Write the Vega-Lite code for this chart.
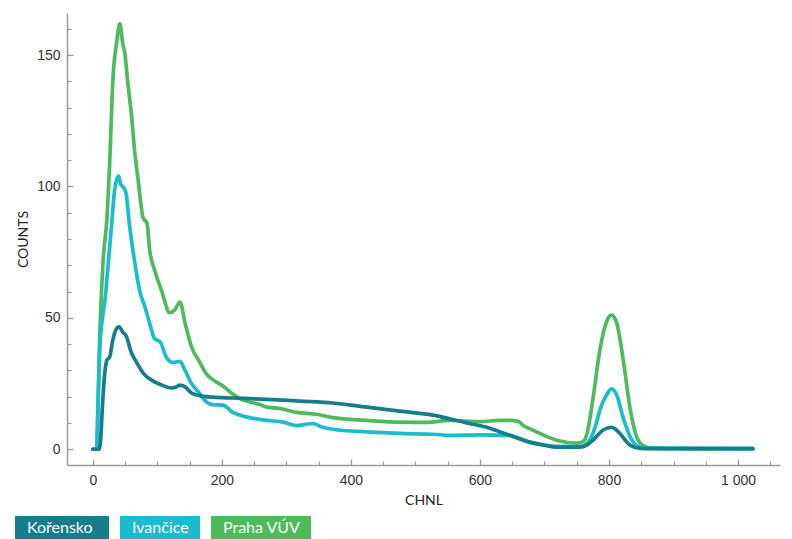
{
  "$schema": "https://vega.github.io/schema/vega-lite/v6.json",
  "width": 713,
  "height": 452,
  "autosize": {"type": "none"},
  "padding": {"left": 67, "top": 13, "right": 12, "bottom": 74},
  "background": "white",
  "config": {
    "view": {"stroke": null},
    "axis": {"grid": false, "domainColor": "#9a9a9a", "domainWidth": 1.5, "tickColor": "#9a9a9a", "tickWidth": 1.2, "labelFont": "Liberation Sans", "labelFontSize": 14, "labelColor": "#333333", "titleFont": "Lato", "titleFontSize": 14, "titleFontWeight": "normal", "titleColor": "#222222"}
  },
  "data": {"values": [
    {"ch":0,"v":0,"s":"Praha VÚV"},{"ch":6,"v":0,"s":"Praha VÚV"},{"ch":8,"v":18,"s":"Praha VÚV"},{"ch":11,"v":45,"s":"Praha VÚV"},{"ch":16,"v":72,"s":"Praha VÚV"},{"ch":22,"v":88,"s":"Praha VÚV"},{"ch":26,"v":108,"s":"Praha VÚV"},{"ch":31,"v":140,"s":"Praha VÚV"},{"ch":37,"v":155,"s":"Praha VÚV"},{"ch":42,"v":162,"s":"Praha VÚV"},{"ch":46,"v":155,"s":"Praha VÚV"},{"ch":50,"v":150,"s":"Praha VÚV"},{"ch":54,"v":140,"s":"Praha VÚV"},{"ch":60,"v":127,"s":"Praha VÚV"},{"ch":65,"v":113,"s":"Praha VÚV"},{"ch":70,"v":103,"s":"Praha VÚV"},{"ch":78,"v":88,"s":"Praha VÚV"},{"ch":84,"v":86,"s":"Praha VÚV"},{"ch":88,"v":76,"s":"Praha VÚV"},{"ch":96,"v":68,"s":"Praha VÚV"},{"ch":107,"v":60,"s":"Praha VÚV"},{"ch":119,"v":52,"s":"Praha VÚV"},{"ch":127,"v":53,"s":"Praha VÚV"},{"ch":135,"v":56,"s":"Praha VÚV"},{"ch":143,"v":48,"s":"Praha VÚV"},{"ch":153,"v":39,"s":"Praha VÚV"},{"ch":166,"v":33,"s":"Praha VÚV"},{"ch":175,"v":29,"s":"Praha VÚV"},{"ch":189,"v":26,"s":"Praha VÚV"},{"ch":202,"v":24,"s":"Praha VÚV"},{"ch":217,"v":21,"s":"Praha VÚV"},{"ch":230,"v":19,"s":"Praha VÚV"},{"ch":243,"v":18,"s":"Praha VÚV"},{"ch":259,"v":17,"s":"Praha VÚV"},{"ch":270,"v":16,"s":"Praha VÚV"},{"ch":290,"v":15.5,"s":"Praha VÚV"},{"ch":316,"v":14,"s":"Praha VÚV"},{"ch":347,"v":13.3,"s":"Praha VÚV"},{"ch":372,"v":12,"s":"Praha VÚV"},{"ch":425,"v":11,"s":"Praha VÚV"},{"ch":476,"v":10.3,"s":"Praha VÚV"},{"ch":518,"v":10.2,"s":"Praha VÚV"},{"ch":553,"v":11,"s":"Praha VÚV"},{"ch":600,"v":10.5,"s":"Praha VÚV"},{"ch":631,"v":11,"s":"Praha VÚV"},{"ch":647,"v":11,"s":"Praha VÚV"},{"ch":660,"v":10.5,"s":"Praha VÚV"},{"ch":667,"v":9,"s":"Praha VÚV"},{"ch":680,"v":7.5,"s":"Praha VÚV"},{"ch":693,"v":6,"s":"Praha VÚV"},{"ch":719,"v":3.4,"s":"Praha VÚV"},{"ch":750,"v":2.3,"s":"Praha VÚV"},{"ch":760,"v":3,"s":"Praha VÚV"},{"ch":766,"v":6,"s":"Praha VÚV"},{"ch":775,"v":19,"s":"Praha VÚV"},{"ch":786,"v":38,"s":"Praha VÚV"},{"ch":797,"v":49,"s":"Praha VÚV"},{"ch":804,"v":51,"s":"Praha VÚV"},{"ch":812,"v":48,"s":"Praha VÚV"},{"ch":822,"v":34,"s":"Praha VÚV"},{"ch":833,"v":15,"s":"Praha VÚV"},{"ch":843,"v":4.6,"s":"Praha VÚV"},{"ch":852,"v":1.5,"s":"Praha VÚV"},{"ch":865,"v":0.5,"s":"Praha VÚV"},{"ch":900,"v":0.3,"s":"Praha VÚV"},{"ch":1023,"v":0.2,"s":"Praha VÚV"},

    {"ch":0,"v":0,"s":"Ivančice"},{"ch":6,"v":0,"s":"Ivančice"},{"ch":8,"v":15,"s":"Ivančice"},{"ch":11,"v":39,"s":"Ivančice"},{"ch":15,"v":50,"s":"Ivančice"},{"ch":19,"v":57,"s":"Ivančice"},{"ch":23,"v":68,"s":"Ivančice"},{"ch":29,"v":85,"s":"Ivančice"},{"ch":34,"v":99,"s":"Ivančice"},{"ch":40,"v":104,"s":"Ivančice"},{"ch":43,"v":101,"s":"Ivančice"},{"ch":46,"v":100,"s":"Ivančice"},{"ch":51,"v":98,"s":"Ivančice"},{"ch":57,"v":85,"s":"Ivančice"},{"ch":65,"v":71,"s":"Ivančice"},{"ch":73,"v":60,"s":"Ivančice"},{"ch":81,"v":54,"s":"Ivančice"},{"ch":88,"v":48,"s":"Ivančice"},{"ch":96,"v":42,"s":"Ivančice"},{"ch":104,"v":41,"s":"Ivančice"},{"ch":114,"v":35,"s":"Ivančice"},{"ch":124,"v":33,"s":"Ivančice"},{"ch":135,"v":33.4,"s":"Ivančice"},{"ch":143,"v":30,"s":"Ivančice"},{"ch":153,"v":25,"s":"Ivančice"},{"ch":163,"v":22,"s":"Ivančice"},{"ch":176,"v":18,"s":"Ivančice"},{"ch":186,"v":17,"s":"Ivančice"},{"ch":202,"v":16.8,"s":"Ivančice"},{"ch":217,"v":14,"s":"Ivančice"},{"ch":238,"v":12.3,"s":"Ivančice"},{"ch":270,"v":11,"s":"Ivančice"},{"ch":295,"v":10.3,"s":"Ivančice"},{"ch":316,"v":9,"s":"Ivančice"},{"ch":330,"v":9.5,"s":"Ivančice"},{"ch":341,"v":9.8,"s":"Ivančice"},{"ch":355,"v":8.5,"s":"Ivančice"},{"ch":372,"v":7.6,"s":"Ivančice"},{"ch":425,"v":6.6,"s":"Ivančice"},{"ch":476,"v":6,"s":"Ivančice"},{"ch":528,"v":5.7,"s":"Ivančice"},{"ch":553,"v":5.3,"s":"Ivančice"},{"ch":600,"v":5.5,"s":"Ivančice"},{"ch":646,"v":5.3,"s":"Ivančice"},{"ch":660,"v":4.3,"s":"Ivančice"},{"ch":677,"v":2.7,"s":"Ivančice"},{"ch":700,"v":1.6,"s":"Ivančice"},{"ch":719,"v":1.1,"s":"Ivančice"},{"ch":755,"v":1.1,"s":"Ivančice"},{"ch":765,"v":2,"s":"Ivančice"},{"ch":770,"v":3.4,"s":"Ivančice"},{"ch":778,"v":8,"s":"Ivančice"},{"ch":786,"v":15,"s":"Ivančice"},{"ch":797,"v":21,"s":"Ivančice"},{"ch":804,"v":23,"s":"Ivančice"},{"ch":812,"v":20.6,"s":"Ivančice"},{"ch":822,"v":12,"s":"Ivančice"},{"ch":833,"v":4.6,"s":"Ivančice"},{"ch":840,"v":2,"s":"Ivančice"},{"ch":848,"v":0.8,"s":"Ivančice"},{"ch":870,"v":0.3,"s":"Ivančice"},{"ch":1023,"v":0.2,"s":"Ivančice"},

    {"ch":0,"v":0,"s":"Kořensko"},{"ch":10,"v":0,"s":"Kořensko"},{"ch":12,"v":3,"s":"Kořensko"},{"ch":14,"v":12,"s":"Kořensko"},{"ch":16,"v":21,"s":"Kořensko"},{"ch":19,"v":30,"s":"Kořensko"},{"ch":22,"v":34,"s":"Kořensko"},{"ch":26,"v":35,"s":"Kořensko"},{"ch":31,"v":41.6,"s":"Kořensko"},{"ch":37,"v":46,"s":"Kořensko"},{"ch":41,"v":46.6,"s":"Kořensko"},{"ch":46,"v":44.7,"s":"Kořensko"},{"ch":52,"v":43,"s":"Kořensko"},{"ch":60,"v":36.6,"s":"Kořensko"},{"ch":68,"v":33,"s":"Kořensko"},{"ch":78,"v":29,"s":"Kořensko"},{"ch":91,"v":26.3,"s":"Kořensko"},{"ch":107,"v":24.4,"s":"Kořensko"},{"ch":122,"v":23.3,"s":"Kořensko"},{"ch":130,"v":23.8,"s":"Kořensko"},{"ch":135,"v":24.4,"s":"Kořensko"},{"ch":143,"v":23.7,"s":"Kořensko"},{"ch":153,"v":21.4,"s":"Kořensko"},{"ch":166,"v":20.4,"s":"Kořensko"},{"ch":186,"v":19.8,"s":"Kořensko"},{"ch":217,"v":19.5,"s":"Kořensko"},{"ch":270,"v":19,"s":"Kořensko"},{"ch":321,"v":18.3,"s":"Kořensko"},{"ch":372,"v":17.6,"s":"Kořensko"},{"ch":425,"v":16,"s":"Kořensko"},{"ch":476,"v":14.5,"s":"Kořensko"},{"ch":527,"v":13,"s":"Kořensko"},{"ch":580,"v":10,"s":"Kořensko"},{"ch":615,"v":8,"s":"Kořensko"},{"ch":631,"v":6.6,"s":"Kořensko"},{"ch":646,"v":5.3,"s":"Kořensko"},{"ch":677,"v":2.7,"s":"Kořensko"},{"ch":700,"v":1.5,"s":"Kořensko"},{"ch":719,"v":0.8,"s":"Kořensko"},{"ch":755,"v":0.8,"s":"Kořensko"},{"ch":765,"v":1.5,"s":"Kořensko"},{"ch":775,"v":3.4,"s":"Kořensko"},{"ch":791,"v":7.3,"s":"Kořensko"},{"ch":804,"v":8.3,"s":"Kořensko"},{"ch":817,"v":6,"s":"Kořensko"},{"ch":825,"v":3.5,"s":"Kořensko"},{"ch":833,"v":1.5,"s":"Kořensko"},{"ch":848,"v":0.3,"s":"Kořensko"},{"ch":870,"v":0.2,"s":"Kořensko"},{"ch":1023,"v":0.2,"s":"Kořensko"}
  ]},
  "layer": [
    {
      "mark": {"type": "line", "strokeWidth": 3.7, "interpolate": "monotone", "strokeCap": "round", "strokeJoin": "round"},
      "encoding": {
        "x": {"field": "ch", "type": "quantitative", "scale": {"domain": [-40, 1065], "nice": false, "zero": false},
              "axis": {"orient": "bottom", "title": "CHNL", "values": [0, 200, 400, 600, 800, 1000], "tickSize": -6, "labelPadding": 14, "titlePadding": 6,
                       "labelExpr": "replace(format(datum.value, ','), ',', ' ')"}},
        "y": {"field": "v", "type": "quantitative", "scale": {"domain": [-6, 166], "nice": false, "zero": false},
              "axis": {"orient": "left", "title": "COUNTS", "values": [0, 50, 100, 150], "tickSize": -6, "labelPadding": 13, "titlePadding": 6}},
        "color": {"field": "s", "type": "nominal",
                  "scale": {"domain": ["Kořensko", "Ivančice", "Praha VÚV"], "range": ["#167d8c", "#1bbccf", "#4dbb5b"]},
                  "sort": null,
                  "legend": {"orient": "none", "legendX": -52, "legendY": 465, "direction": "horizontal", "title": null,
                             "padding": 0, "columnPadding": 11, "symbolSize": 10000, "symbolStrokeWidth": 0,
                             "symbolType": "M-1,-0.24H0.88V0.24H-1Z", "labelOffset": -88, "labelFont": "Lato", "labelFontSize": 16,
                             "labelColor": "white", "labelLimit": 200,
                             "encode": {"symbols": {"update": {
                               "shape": {"signal": "datum.value == 'Ivančice' ? 'M-1,-0.24H0.6V0.24H-1Z' : datum.value == 'Praha VÚV' ? 'M-1,-0.24H1V0.24H-1Z' : 'M-1,-0.24H0.88V0.24H-1Z'"},
                               "fill": {"signal": "scale('color', datum.value)"},
                               "fillOpacity": {"value": 1},
                               "strokeWidth": {"value": 0}
                             }}}}}
      }
    },
    {
      "mark": {"type": "point", "opacity": 0},
      "encoding": {
        "x": {"field": "ch", "type": "quantitative",
              "axis": {"orient": "bottom", "title": null, "labels": false, "domain": false, "values": [0,50,100,150,200,250,300,350,400,450,500,550,600,650,700,750,800,850,900,950,1000,1050], "tickSize": -4}},
        "y": {"field": "v", "type": "quantitative",
              "axis": {"orient": "left", "title": null, "labels": false, "domain": false, "values": [0,10,20,30,40,50,60,70,80,90,100,110,120,130,140,150,160], "tickSize": -4}}
      }
    }
  ],
  "resolve": {"axis": {"x": "independent", "y": "independent"}}
}
